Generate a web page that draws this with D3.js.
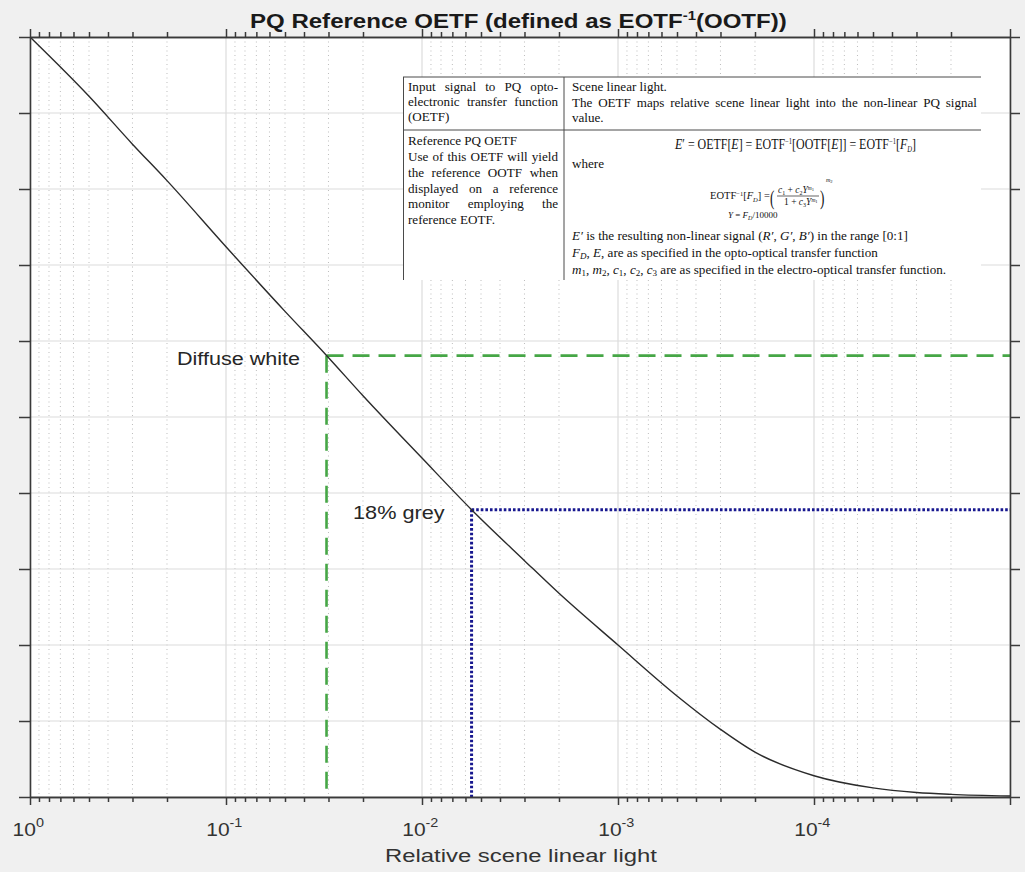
<!DOCTYPE html>
<html>
<head>
<meta charset="utf-8">
<script src="https://cdn.jsdelivr.net/npm/d3@7"></script>
<style>
  html, body { margin: 0; padding: 0; background: #f0f0f0; }
  svg { display: block; }
</style>
</head>
<body>
<svg id="chart" width="1025" height="872"></svg>
<script>
// Relative scene linear light E and the reference PQ signal E' = EOTF^-1[OOTF[E]]
const sceneLight = [1, 0.5, 0.3, 0.2, 0.1, 0.05, 0.0307, 0.02, 0.01, 0.005586, 0.003, 0.002,
                    0.001, 0.0005, 0.0003, 0.0002, 0.0001, 0.00005, 0.00003, 0.00002, 0.00001];
const pqSignal   = [1.000, 0.922, 0.859, 0.811, 0.724, 0.639, 0.581, 0.528, 0.446, 0.378, 0.311, 0.268,
                    0.200, 0.133, 0.089, 0.059, 0.028, 0.012, 0.006, 0.0035, 0.0013];

// Axis ticks
const decadeTicks = [1, 0.1, 0.01, 0.001, 0.0001];
const decadeExponents = ["0", "-1", "-2", "-3", "-4"];
const signalTicks = [0, 0.1, 0.2, 0.3, 0.4, 0.5, 0.6, 0.7, 0.8, 0.9, 1.0];

// Reference levels marked on the curve
const markerNames  = ["Diffuse white", "18% grey"];
const markerScene  = [0.0307, 0.005586];
const markerSignal = [0.5807, 0.3781];

const svg = d3.select("#chart");
const W = 1025, H = 872;
const plot = { left: 30, right: 1010, top: 37, bottom: 797 };

const x = d3.scaleLog().domain([1, 1e-5]).range([plot.left, plot.right]);
const y = d3.scaleLinear().domain([0, 1]).range([plot.bottom, plot.top]);

const allLogTicks = x.ticks().filter(v => v <= 1 && v >= 1e-5);
const isDecade = v => Math.abs(Math.log10(v) - Math.round(Math.log10(v))) < 1e-9;
const majorX = allLogTicks.filter(isDecade);
const minorX = allLogTicks.filter(v => !isDecade(v));

const SANS = "'Liberation Sans', Arial, Helvetica, sans-serif";
const SERIF = "'Liberation Serif', 'Times New Roman', Times, serif";

svg.append("rect").attr("width", W).attr("height", H).attr("fill", "#f0f0f0");
svg.append("rect")
  .attr("x", plot.left).attr("y", plot.top)
  .attr("width", plot.right - plot.left).attr("height", plot.bottom - plot.top)
  .attr("fill", "#ffffff");

// Grid
const grid = svg.append("g");
grid.selectAll("line.minor").data(minorX).join("line")
  .attr("x1", d => x(d)).attr("x2", d => x(d))
  .attr("y1", plot.top).attr("y2", plot.bottom)
  .attr("stroke", "#bdbdbd").attr("stroke-width", 1)
  .attr("stroke-dasharray", "1,3.5");
grid.selectAll("line.majx").data(majorX).join("line")
  .attr("x1", d => x(d)).attr("x2", d => x(d))
  .attr("y1", plot.top).attr("y2", plot.bottom)
  .attr("stroke", "#dcdcdc").attr("stroke-width", 1.2);
grid.selectAll("line.majy").data(signalTicks).join("line")
  .attr("x1", plot.left).attr("x2", plot.right)
  .attr("y1", d => y(d)).attr("y2", d => y(d))
  .attr("stroke", "#dcdcdc").attr("stroke-width", 1.2);

// Reference levels
const green = "#46a646", navy = "#17178f";
const mk = svg.append("g");
const markerStyle = [
  { color: green, dash: "17,9", width: 2.6 },
  { color: navy, dash: "2.6,2", width: 3 }
];
markerNames.forEach((name, i) => {
  const cx = x(markerScene[i]), cy = y(markerSignal[i]);
  const st = markerStyle[i];
  mk.append("line").attr("x1", cx).attr("x2", plot.right).attr("y1", cy).attr("y2", cy)
    .attr("stroke", st.color).attr("stroke-width", st.width).attr("stroke-dasharray", st.dash);
  mk.append("line").attr("x1", cx).attr("x2", cx).attr("y1", cy).attr("y2", plot.bottom)
    .attr("stroke", st.color).attr("stroke-width", st.width).attr("stroke-dasharray", st.dash);
});

// Curve
const line = d3.line()
  .x((d, i) => x(sceneLight[i]))
  .y(d => y(d))
  .curve(d3.curveMonotoneX);
svg.append("path").datum(pqSignal)
  .attr("d", line)
  .attr("fill", "none").attr("stroke", "#2b2b2b").attr("stroke-width", 1.4);

// Axes (box with outward ticks on all four sides)
const axisColor = "#3a3a3a";
function styleAxis(g) {
  g.selectAll("path.domain").attr("stroke", axisColor).attr("stroke-width", 1.6);
  g.selectAll(".tick line").attr("stroke", axisColor).attr("stroke-width", 1.5);
  g.selectAll(".tick text").remove();
}
svg.append("g").attr("transform", `translate(0,${plot.bottom})`)
  .call(d3.axisBottom(x).tickValues(minorX).tickSize(5).tickSizeOuter(0).tickFormat("")).call(styleAxis);
svg.append("g").attr("transform", `translate(0,${plot.bottom})`)
  .call(d3.axisBottom(x).tickValues(majorX).tickSize(8).tickSizeOuter(0).tickFormat("")).call(styleAxis);
svg.append("g").attr("transform", `translate(0,${plot.top})`)
  .call(d3.axisTop(x).tickValues(minorX).tickSize(5).tickSizeOuter(0).tickFormat("")).call(styleAxis);
svg.append("g").attr("transform", `translate(0,${plot.top})`)
  .call(d3.axisTop(x).tickValues(majorX).tickSize(8).tickSizeOuter(0).tickFormat("")).call(styleAxis);
svg.append("g").attr("transform", `translate(${plot.left},0)`)
  .call(d3.axisLeft(y).tickValues(signalTicks).tickSize(11).tickSizeOuter(0).tickFormat("")).call(styleAxis);
svg.append("g").attr("transform", `translate(${plot.right},0)`)
  .call(d3.axisRight(y).tickValues(signalTicks).tickSize(10).tickSizeOuter(0).tickFormat("")).call(styleAxis);

// Text helper: place a text at (x0, baseline) and stretch it horizontally to a given width
function fitText(parent, x0, baseline, width, build) {
  const g = parent.append("g").attr("transform", `translate(${x0},${baseline})`);
  const t = g.append("text").attr("x", 0).attr("y", 0);
  build(t);
  const w = t.node().getBBox().width;
  t.attr("transform", `scale(${width / w},1)`);
  return t;
}

// Decade tick labels 10^k
decadeTicks.forEach((v, i) => {
  const g = svg.append("g");
  const t = g.append("text").attr("font-family", SANS).attr("fill", "#333").attr("y", 836);
  t.append("tspan").attr("font-size", 17.5).text("10");
  t.append("tspan").attr("font-size", 12).attr("dy", -9).text(decadeExponents[i]);
  const w = t.node().getBBox().width * 1.2;
  t.attr("transform", `translate(${x(v) - 1.5 - w / 2},0) scale(1.2,1)`);
});

// Title
fitText(svg, 250, 28, 537, t => {
  t.attr("font-family", SANS).attr("font-weight", "bold").attr("fill", "#1a1a1a");
  t.append("tspan").attr("font-size", 21).text("PQ Reference OETF (defined as EOTF");
  t.append("tspan").attr("font-size", 13).attr("dy", -8).text("-1");
  t.append("tspan").attr("font-size", 21).attr("dy", 8).text("(OOTF))");
});

// X axis title
fitText(svg, 385, 862, 272, t => {
  t.attr("font-family", SANS).attr("font-size", 18.5).attr("fill", "#333").text("Relative scene linear light");
});

// Marker labels
const labelBox = [[177, 365, 123], [353, 518.5, 92]];
markerNames.forEach((name, i) => {
  fitText(svg, labelBox[i][0], labelBox[i][1], labelBox[i][2], t => {
    t.attr("font-family", SANS).attr("font-size", 17.5).attr("fill", "#262626").text(name);
  });
});

// Definition table
const tbl = svg.append("g").attr("font-family", SERIF).attr("font-size", 13.1).attr("fill", "#111");
const T = { left: 403, mid: 564, right: 981, top: 77, sep: 130, bottom: 280 };
tbl.append("rect").attr("x", T.left).attr("y", T.top).attr("width", T.right - T.left)
  .attr("height", T.bottom - T.top).attr("fill", "#fff");
const rule = (x1, y1, x2, y2) => tbl.append("line").attr("x1", x1).attr("y1", y1).attr("x2", x2).attr("y2", y2)
  .attr("stroke", "#4a4a4a").attr("stroke-width", 1);
rule(T.left, T.top, T.right, T.top);
rule(T.left, T.sep, T.right, T.sep);
rule(T.left + 0.5, T.top, T.left + 0.5, T.bottom);
rule(T.mid, T.top, T.mid, T.bottom);

function plainLine(str, x0, yb) {
  tbl.append("text").attr("x", x0).attr("y", yb).text(str);
}
function justifyLine(str, x0, x1, yb) {
  const words = str.split(" ");
  const t = tbl.append("text").attr("y", yb);
  const widths = words.map(w => {
    const s = t.append("tspan").text(w);
    const wd = s.node().getComputedTextLength();
    s.remove();
    return wd;
  });
  const gap = (x1 - x0 - d3.sum(widths)) / (words.length - 1);
  let cx = x0;
  words.forEach((w, i) => { t.append("tspan").attr("x", cx).text(w); cx += widths[i] + gap; });
}
// segments: [text, style] where style may contain i (italic), sub, sup, size
function richLine(segs, x0, yb, size) {
  const t = tbl.append("text").attr("x", x0).attr("y", yb);
  if (size) t.attr("font-size", size);
  let shift = 0;
  segs.forEach(([s, st = {}]) => {
    const sp = t.append("tspan").text(s);
    if (st.i) sp.attr("font-style", "italic");
    if (st.size) sp.attr("font-size", st.size);
    let target = 0;
    if (st.sub) target = st.sub;
    if (st.sup) target = -st.sup;
    if (target !== shift) { sp.attr("dy", target - shift); shift = target; }
  });
  return t;
}

const LX0 = 408, LX1 = 558, RX0 = 572, RX1 = 977;
justifyLine("Input signal to PQ opto-", LX0, LX1, 91);
justifyLine("electronic transfer function", LX0, LX1, 106);
plainLine("(OETF)", LX0, 121);
plainLine("Scene linear light.", RX0, 91);
justifyLine("The OETF maps relative scene linear light into the non-linear PQ signal", RX0, RX1, 107);
plainLine("value.", RX0, 122);

plainLine("Reference PQ OETF", LX0, 145);
justifyLine("Use of this OETF will yield", LX0, LX1, 161);
justifyLine("the reference OOTF when", LX0, LX1, 177);
justifyLine("displayed on a reference", LX0, LX1, 192.5);
justifyLine("monitor employing the", LX0, LX1, 208);
plainLine("reference EOTF.", LX0, 223.5);

// E' = OETF[E] = EOTF^-1[OOTF[E]] = EOTF^-1[F_D]
const eq = richLine([
  ["E", { i: true }], ["′ = OETF[", {}], ["E", { i: true }], ["] = EOTF", {}],
  ["−1", { sup: 5, size: 8 }], ["[OOTF[", {}], ["E", { i: true }], ["]] = EOTF", {}],
  ["−1", { sup: 5, size: 8 }], ["[", {}], ["F", { i: true }], ["D", { i: true, sub: 3, size: 8 }], ["]", {}]
], 0, 0, 14.5);
{
  const w = eq.node().getBBox().width;
  eq.attr("transform", `translate(675,149) scale(${242 / w},1)`);
}
plainLine("where", RX0, 168);

// EOTF^-1[F_D] = ((c1 + c2 Y^m1) / (1 + c3 Y^m1))^m2
richLine([
  ["EOTF", {}], ["−1", { sup: 3.5, size: 6.5 }], ["[", {}], ["F", { i: true }],
  ["D", { i: true, sub: 2.5, size: 6.5 }], ["] =", {}]
], 710, 199, 10.5);
tbl.append("text").attr("x", 770).attr("y", 205).attr("font-size", 22)
  .attr("transform", "translate(770,205) scale(0.6,1) translate(-770,-205)").text("(");
tbl.append("text").attr("x", 820).attr("y", 205).attr("font-size", 22)
  .attr("transform", "translate(820,205) scale(0.6,1) translate(-820,-205)").text(")");
richLine([
  ["c", { i: true }], ["1", { sub: 1.5, size: 6 }], [" + ", {}], ["c", { i: true }],
  ["2", { sub: 1.5, size: 6 }], ["Y", { i: true }], ["m", { i: true, sup: 3.5, size: 5.5 }],
  ["1", { sup: 2.5, size: 4.5 }]
], 778, 193, 9.5);
tbl.append("line").attr("x1", 777).attr("x2", 819).attr("y1", 196).attr("y2", 196)
  .attr("stroke", "#222").attr("stroke-width", 0.7);
richLine([
  ["1 + ", {}], ["c", { i: true }], ["3", { sub: 1.5, size: 6 }], ["Y", { i: true }],
  ["m", { i: true, sup: 3.5, size: 5.5 }], ["1", { sup: 2.5, size: 4.5 }]
], 784, 205, 9.5);
richLine([["m", { i: true }], ["2", { sub: 1, size: 4.5 }]], 826, 182, 6);

richLine([
  ["Y", { i: true }], [" = ", {}], ["F", { i: true }], ["D", { i: true, sub: 2, size: 6 }], ["/10000", {}]
], 728, 218, 9);

richLine([
  ["E′", { i: true }], [" is the resulting non-linear signal (", {}], ["R′", { i: true }], [", ", {}],
  ["G′", { i: true }], [", ", {}], ["B′", { i: true }], [") in the range [0:1]", {}]
], RX0, 240);
richLine([
  ["F", { i: true }], ["D", { i: true, sub: 2, size: 9 }], [", ", {}], ["E", { i: true }],
  [", are as specified in the opto-optical transfer function", {}]
], RX0, 257);
richLine([
  ["m", { i: true }], ["1", { sub: 2, size: 9 }], [", ", {}], ["m", { i: true }], ["2", { sub: 2, size: 9 }],
  [", ", {}], ["c", { i: true }], ["1", { sub: 2, size: 9 }], [", ", {}], ["c", { i: true }],
  ["2", { sub: 2, size: 9 }], [", ", {}], ["c", { i: true }], ["3", { sub: 2, size: 9 }],
  [" are as specified in the electro-optical transfer function.", {}]
], RX0, 274);
</script>
</body>
</html>
